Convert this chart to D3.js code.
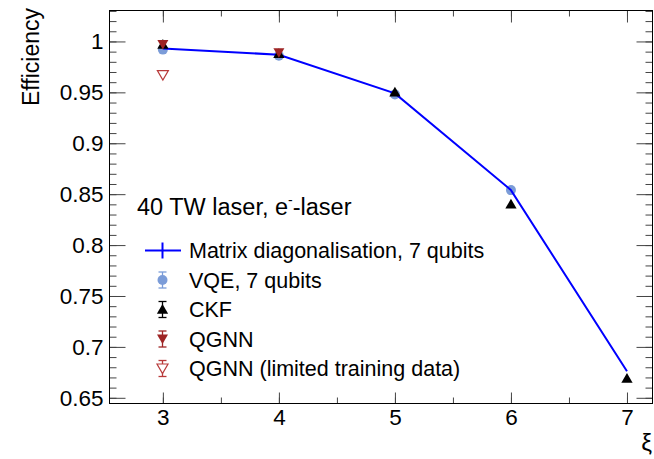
<!DOCTYPE html>
<html>
<head>
<meta charset="utf-8">
<script src="https://cdn.jsdelivr.net/npm/d3@7"></script>
<style>
  body { margin: 0; background: #fff; }
  text { font-family: "Liberation Sans", Arial, sans-serif; }
</style>
</head>
<body>
<svg id="chart" width="654" height="459"></svg>
<script>
// values
const xi = [3, 4, 5, 6, 7];
const matrixEff = [0.993, 0.987, 0.949, 0.854, 0.676];
const vqeX = [3, 4, 5, 6];
const vqeEff = [0.992, 0.986, 0.948, 0.854];
const ckfEff = [0.997, 0.988, 0.950, 0.840, 0.669];
const qgnnX = [3, 4];
const qgnnEff = [0.997, 0.989];
const qgnnLimX = [3];
const qgnnLimEff = [0.967];

const xTicks = [3, 4, 5, 6, 7];
const yTicks = [0.65, 0.7, 0.75, 0.8, 0.85, 0.9, 0.95, 1];
const yTickLabels = ['0.65', '0.7', '0.75', '0.8', '0.85', '0.9', '0.95', '1'];

const legendTitle = '40 TW laser, e';
const legendItems = [
  { name: 'Matrix diagonalisation, 7 qubits', kind: 'line' },
  { name: 'VQE, 7 qubits', kind: 'circle' },
  { name: 'CKF', kind: 'up' },
  { name: 'QGNN', kind: 'down' },
  { name: 'QGNN (limited training data)', kind: 'open' },
];

const colors = {
  line: '#0000ff',
  circle: '#7b9cd8',
  up: '#000000',
  down: '#9e2424',
  open: '#b83a3a',
};

const L = 109.5, R = 652.5, T = 10.5, B = 403.5;

const svg = d3.select('#chart');

const x = d3.scaleLinear().domain([2.54, 7.22]).range([L, R]);
const y = d3.scaleLinear().domain([0.6444, 1.0304]).range([B, T]);

// ticks: ROOT style, inward, on all four sides
const yMinor = d3.range(0.65, 1.031, 0.01).map(v => +v.toFixed(2));
const xMinor = d3.range(2.5, 7.3, 0.5).filter(v => v > 2.54 && v < 7.22);

const tickStyle = g => {
  g.select('.domain').remove();
  g.selectAll('line').attr('stroke', '#444').attr('stroke-width', 1);
  g.selectAll('text').attr('font-size', 22.5).attr('fill', '#000');
};

svg.append('g').attr('transform', `translate(${L},0)`)
  .call(d3.axisLeft(y).tickValues(yMinor).tickSize(-7).tickFormat(''))
  .call(tickStyle);
svg.append('g').attr('transform', `translate(${L},0)`)
  .call(d3.axisLeft(y).tickValues(yTicks).tickSize(-16).tickPadding(6)
    .tickFormat((d, i) => yTickLabels[i]))
  .call(tickStyle);
svg.append('g').attr('transform', `translate(${R},0)`)
  .call(d3.axisRight(y).tickValues(yMinor).tickSize(-7).tickFormat(''))
  .call(tickStyle);
svg.append('g').attr('transform', `translate(${R},0)`)
  .call(d3.axisRight(y).tickValues(yTicks).tickSize(-16).tickFormat(''))
  .call(tickStyle);

svg.append('g').attr('transform', `translate(0,${B})`)
  .call(d3.axisBottom(x).tickValues(xMinor).tickSize(-6).tickFormat(''))
  .call(tickStyle);
svg.append('g').attr('transform', `translate(0,${B})`)
  .call(d3.axisBottom(x).tickValues(xTicks).tickSize(-11).tickPadding(6)
    .tickFormat(d3.format('d')))
  .call(tickStyle);
svg.append('g').attr('transform', `translate(0,${T})`)
  .call(d3.axisTop(x).tickValues(xMinor).tickSize(-6).tickFormat(''))
  .call(tickStyle);
svg.append('g').attr('transform', `translate(0,${T})`)
  .call(d3.axisTop(x).tickValues(xTicks).tickSize(-12).tickFormat(''))
  .call(tickStyle);

// frame
svg.append('rect')
  .attr('x', L).attr('y', T).attr('width', R - L).attr('height', B - T)
  .attr('fill', 'none').attr('stroke', '#000').attr('stroke-width', 1);

// axis titles
svg.append('text')
  .attr('transform', 'translate(39,8) rotate(-90)')
  .attr('text-anchor', 'end')
  .attr('font-size', 23)
  .text('Efficiency');
svg.append('text')
  .attr('x', 652).attr('y', 451)
  .attr('text-anchor', 'end')
  .attr('font-size', 24)
  .text('ξ');

// markers
const triUp = d3.symbol().type(d3.symbolTriangle).size(55);
const triDown = 'M-5.5,-4.5L5.5,-4.5L0,5z';

const line = d3.line().x((d, i) => x(xi[i])).y(d => y(d));

svg.append('g').selectAll('circle')
  .data(vqeEff)
  .join('circle')
  .attr('cx', (d, i) => x(vqeX[i]))
  .attr('cy', d => y(d))
  .attr('r', 5)
  .attr('fill', colors.circle);

svg.append('path')
  .attr('d', line(matrixEff))
  .attr('fill', 'none')
  .attr('stroke', colors.line)
  .attr('stroke-width', 2);

svg.append('g').selectAll('path')
  .data(ckfEff)
  .join('path')
  .attr('transform', (d, i) => `translate(${x(xi[i])},${y(d) + 1})`)
  .attr('d', triUp)
  .attr('fill', colors.up);

svg.append('g').selectAll('path')
  .data(qgnnEff)
  .join('path')
  .attr('transform', (d, i) => `translate(${x(qgnnX[i])},${y(d)})`)
  .attr('d', triDown)
  .attr('fill', colors.down);

svg.append('g').selectAll('path')
  .data(qgnnLimEff)
  .join('path')
  .attr('transform', (d, i) => `translate(${x(qgnnLimX[i])},${y(d)})`)
  .attr('d', triDown)
  .attr('fill', 'none')
  .attr('stroke', colors.open)
  .attr('stroke-width', 1.2);

// legend
const lg = svg.append('g');
const title = lg.append('text')
  .attr('x', 137).attr('y', 215)
  .attr('font-size', 23.5)
  .text(legendTitle);
title.append('tspan')
  .attr('font-size', 14)
  .attr('dy', -10)
  .text('-');
title.append('tspan')
  .attr('dy', 10)
  .text('-laser');

const mx = 162.5;
const entries = lg.selectAll('g.entry')
  .data(legendItems)
  .join('g')
  .attr('class', 'entry')
  .attr('transform', (d, i) => `translate(0,${250.5 + i * 29.5})`);

entries.append('text')
  .attr('x', 189)
  .attr('y', 0)
  .attr('dy', '0.35em')
  .attr('font-size', 21.5)
  .text(d => d.name);

entries.each(function (d) {
  const g = d3.select(this);
  const c = colors[d.kind];
  if (d.kind === 'line') {
    g.append('line').attr('x1', 145).attr('x2', 181).attr('y1', 0).attr('y2', 0)
      .attr('stroke', c).attr('stroke-width', 2);
    g.append('line').attr('x1', mx).attr('x2', mx).attr('y1', -8).attr('y2', 8)
      .attr('stroke', c).attr('stroke-width', 2);
    return;
  }
  // error bar with caps
  g.append('line').attr('x1', mx).attr('x2', mx).attr('y1', -8).attr('y2', 8)
    .attr('stroke', c).attr('stroke-width', 1.3);
  [-8, 8].forEach(dy => {
    g.append('line').attr('x1', mx - 4).attr('x2', mx + 4).attr('y1', dy).attr('y2', dy)
      .attr('stroke', c).attr('stroke-width', 1.3);
  });
  if (d.kind === 'circle') {
    g.append('circle').attr('cx', mx).attr('cy', 0).attr('r', 5).attr('fill', c);
  } else if (d.kind === 'up') {
    g.append('path').attr('transform', `translate(${mx},1)`).attr('d', triUp).attr('fill', c);
  } else if (d.kind === 'down') {
    g.append('path').attr('transform', `translate(${mx},0)`).attr('d', triDown).attr('fill', c);
  } else {
    g.append('path').attr('transform', `translate(${mx},0)`).attr('d', triDown)
      .attr('fill', '#fff').attr('stroke', c).attr('stroke-width', 1.2);
  }
});
</script>
</body>
</html>
